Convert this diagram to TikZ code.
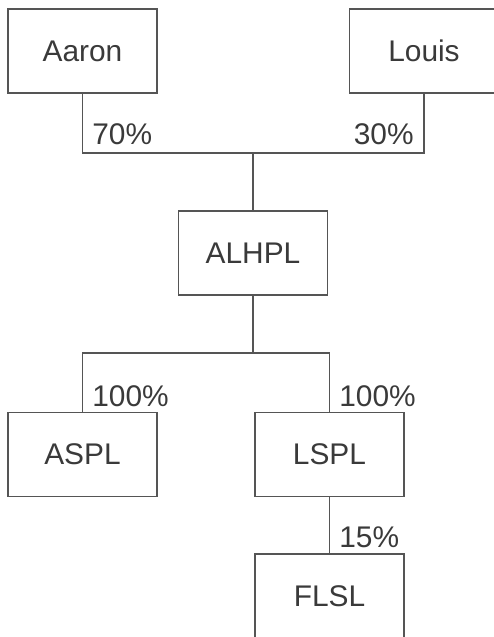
\documentclass[tikz,border=0pt]{standalone}
\usepackage{fontspec}
\setmainfont{Liberation Sans}
\definecolor{linegray}{HTML}{555555}
\definecolor{textgray}{HTML}{3A3A3A}

\begin{document}
\begin{tikzpicture}[x=0.02cm, y=-0.02cm,
		firm/.style={draw=linegray, line width=1.1pt, minimum width=2.98cm, minimum height=1.68cm, inner sep=0pt, text=textgray, font=\fontsize{17}{20}\selectfont},
		share/.style={inner sep=0pt, text=textgray, font=\fontsize{17}{20}\selectfont},
		link/.style={draw=linegray, line width=1.1pt}]
		\useasboundingbox (0,0) rectangle (494,637);
		
		\foreach \n\s\x\y in {aaron/Aaron/82.5/51, louis/Louis/424/51,
			alhpl/ALHPL/253/253,
			aspl/ASPL/82.5/454.5, lspl/LSPL/329.5/454.5,
			flsl/FLSL/329.5/596}
		\node[firm] (\n) at (\x, \y) {\s};
		
		\coordinate (top) at (253, 153);
		\coordinate (mid) at (253, 353);
		
		\draw[link] (aaron.south) |- (top) -| (louis.south);
		\draw[link] (top) -- (alhpl.north);
		\draw[link] (alhpl.south) -- (mid);
		\draw[link] (aspl.north) |- (mid) -| (lspl.north);
		\draw[link] (lspl.south) -- (flsl.north);
		
		\node[share, anchor=base west] (p70) at (92, 144.5) {70\%};
		\node[share, anchor=base east] (p30) at (414, 144.5) {30\%};
		\node[share, anchor=base west] (p100a) at (92, 406) {100\%};
		\node[share, anchor=base west] (p100b) at (339, 406) {100\%};
		\node[share, anchor=base west] (p15) at (339, 547.5) {15\%};
		
	\end{tikzpicture}
\end{document}
